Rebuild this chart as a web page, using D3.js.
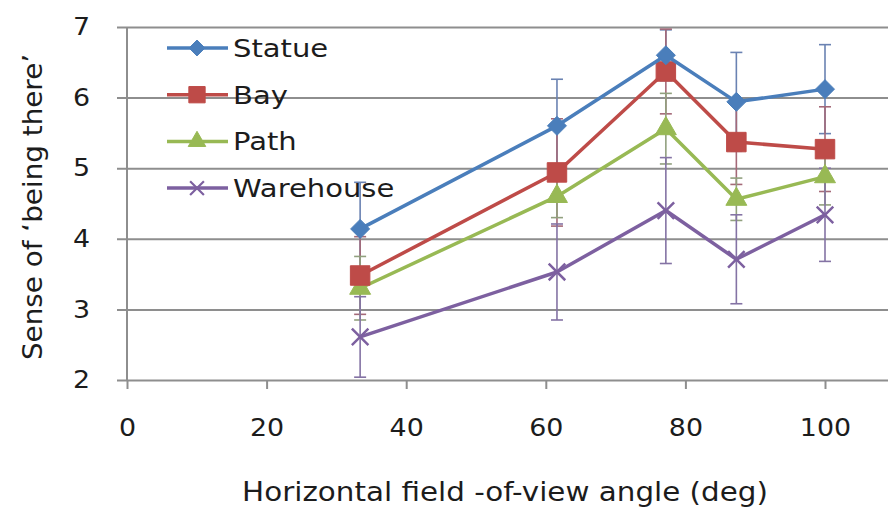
<!DOCTYPE html>
<html lang="en">
<head>
<meta charset="UTF-8"/>
<title>being there</title>
<script src="https://d3js.org/d3.v7.min.js"></script>
<style>
    body { margin: 0; background: #fff; }
    text { font-family: "DejaVu Sans", sans-serif; fill: #1c1c1c; }
    .axis path { display: none; }
    .grid line { stroke: #8e8e8e; stroke-width: 2; }
</style>
</head>
<body>
<script>
    let width = 888, height = 508;
    let plotLeft = 127, plotRight = 825, plotTop = 27, plotBottom = 380;

    // horizontal field of view (deg)
    let fov = [33.4, 61.6, 77.2, 87.3, 100];
    let names = ["Statue", "Bay", "Path", "Warehouse"];
    let statue = [4.14, 5.6, 6.6, 5.94, 6.12];
    let bay = [3.48, 4.94, 6.37, 5.37, 5.27];
    let path = [3.3, 4.6, 5.56, 4.56, 4.88];
    let warehouse = [2.61, 3.53, 4.4, 3.71, 4.34];
    // half-height of the error bars
    let statueErr = [0.66, 0.66, 0.36, 0.7, 0.63];
    let bayErr = [0.55, 0.76, 0.6, 0.6, 0.6];
    let pathErr = [0.45, 0.3, 0.5, 0.3, 0.4];
    let warehouseErr = [0.57, 0.68, 0.75, 0.63, 0.66];
    let xTicks = [0, 20, 40, 60, 80, 100];
    let yTicks = [2, 3, 4, 5, 6, 7];

    let colors = ["#4a7ebb", "#be4b48", "#98b954", "#7d60a0"];
    let symbols = [d3.symbolDiamond2, d3.symbolSquare, d3.symbolTriangle, d3.symbolX];
    let sizes = [230, 380, 190, 180];
    let values = [statue, bay, path, warehouse];
    let errs = [statueErr, bayErr, pathErr, warehouseErr];

    let svg = d3.select("body").append("svg")
        .attr("width", width)
        .attr("height", height);

    let x = d3.scaleLinear().domain([0, 100]).range([plotLeft, plotRight]);
    let y = d3.scaleLinear().domain([2, 7]).range([plotBottom, plotTop]);

    // horizontal grid lines + y labels
    let yAxis = svg.append("g")
        .attr("class", "axis grid")
        .attr("transform", "translate(" + plotLeft + ",0)")
        .call(d3.axisLeft(y).tickValues(yTicks).tickFormat(d3.format("d"))
            .tickSize(-(width - plotLeft)).tickPadding(0));
    yAxis.selectAll(".tick line").attr("x1", -10);
    yAxis.selectAll(".tick text")
        .attr("x", -33)
        .style("font-size", "24px")
        .attr("transform", "scale(1.12,1)");

    // vertical axis line
    svg.append("line")
        .attr("x1", plotLeft).attr("x2", plotLeft)
        .attr("y1", y(7)).attr("y2", y(2))
        .attr("stroke", "#8e8e8e").attr("stroke-width", 2);

    let xAxis = svg.append("g")
        .attr("class", "axis grid")
        .attr("transform", "translate(0," + plotBottom + ")")
        .call(d3.axisBottom(x).tickValues(xTicks).tickSize(9).tickPadding(30));
    xAxis.selectAll(".tick line").attr("stroke-width", 1.5);
    xAxis.selectAll(".tick text")
        .style("font-size", "24px")
        .attr("transform", "scale(1.12,1)")
        .attr("x", 0);

    // error bars
    values.forEach(function(vals, k) {
        let g = svg.append("g")
            .attr("stroke", d3.interpolateRgb(colors[k], "#8a86a8")(0.5))
            .attr("stroke-width", 1.6);
        vals.forEach(function(v, i) {
            let e = errs[k][i], cx = x(fov[i]);
            g.append("line")
                .attr("x1", cx).attr("x2", cx)
                .attr("y1", y(v - e)).attr("y2", y(v + e));
            [v - e, v + e].forEach(function(c) {
                g.append("line")
                    .attr("x1", cx - 6).attr("x2", cx + 6)
                    .attr("y1", y(c)).attr("y2", y(c));
            });
        });
    });

    let line = d3.line()
        .x(function(d, i) { return x(fov[i]); })
        .y(function(d) { return y(d); });

    values.slice().reverse().forEach(function(vals, r) {
        let k = values.length - 1 - r;
        svg.append("path")
            .attr("d", line(vals))
            .attr("fill", "none")
            .attr("stroke", colors[k])
            .attr("stroke-width", 3.5)
            .attr("stroke-linejoin", "round");
        svg.selectAll(null)
            .data(vals)
            .enter().append("path")
            .attr("d", d3.symbol().type(symbols[k]).size(sizes[k]))
            .attr("transform", function(d, i) { return "translate(" + x(fov[i]) + "," + y(d) + ")"; })
            .attr("fill", k == 3 ? "none" : colors[k])
            .attr("stroke", colors[k])
            .attr("stroke-width", k == 3 ? 2.5 : 1);
    });

    // legend
    let legend = svg.append("g");
    names.forEach(function(n, k) {
        let ly = 48 + k * 46.7;
        legend.append("line")
            .attr("x1", 167).attr("x2", 228)
            .attr("y1", ly).attr("y2", ly)
            .attr("stroke", colors[k]).attr("stroke-width", 3.5);
        legend.append("path")
            .attr("d", d3.symbol().type(symbols[k]).size(sizes[k] * 0.7))
            .attr("transform", "translate(197," + ly + ")")
            .attr("fill", k == 3 ? "none" : colors[k])
            .attr("stroke", colors[k])
            .attr("stroke-width", k == 3 ? 2.2 : 1);
        legend.append("text")
            .attr("transform", "translate(233," + (ly + 9) + ") scale(1.21,1)")
            .style("font-size", "24px")
            .text(n);
    });

    // axis titles
    svg.append("text")
        .attr("transform", "translate(505,501) scale(1.13,1)")
        .attr("text-anchor", "middle")
        .style("font-size", "26px")
        .text("Horizontal field -of-view angle (deg)");

    svg.append("text")
        .attr("transform", "translate(42,207) rotate(-90) scale(1.07,1)")
        .attr("text-anchor", "middle")
        .style("font-size", "26px")
        .text("Sense of \u2018being there\u2019");
</script>
</body>
</html>
